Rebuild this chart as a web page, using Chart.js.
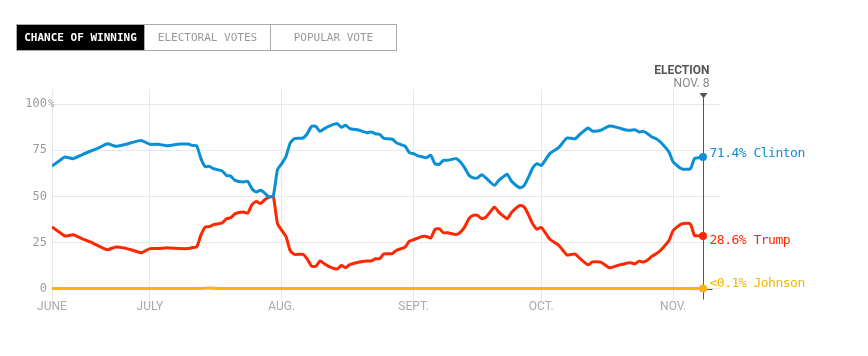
<!DOCTYPE html>
<html><head><meta charset="utf-8">
<script src="https://cdn.jsdelivr.net/npm/chart.js@4.4.0/dist/chart.umd.min.js"></script>
<style>
html,body{margin:0;padding:0;background:#fff;width:868px;height:356px;overflow:hidden}
#wrap{position:relative;width:868px;height:356px}
#c{position:absolute;left:0;top:0}
.tabs{position:absolute;left:16px;top:24px;height:27px;display:flex;box-sizing:border-box;border:1px solid #aaa;font-family:"DejaVu Sans Mono",monospace;font-size:11px}
.tab{box-sizing:border-box;display:flex;align-items:center;justify-content:center;color:#999;height:100%}
.tab.on{background:#000;color:#fff;font-weight:bold}
.tab+.tab{border-left:1px solid #aaa}
</style></head>
<body><div id="wrap">
<canvas id="c" width="868" height="356"></canvas>
<div class="tabs">
 <div class="tab on" style="width:127px">CHANCE OF WINNING</div>
 <div class="tab" style="width:126px">ELECTORAL VOTES</div>
 <div class="tab" style="width:126px">POPULAR VOTE</div>
</div>
</div>
<script>
// days since June 8, 2016
const days = [0,2,3,5,7,9,11,13,15,17,19,21,23,25,27,30,32,33,34,35,36,37,38,40,41,42,43,45,46,47,48,49,50,51,52,53,54,55,56,57,59,60,61,62,63,64,65,67,68,69,70,72,74,75,76,77,78,80,81,83,84,85,86,87,88,89,90,91,92,93,95,96,97,98,99,100,101,102,104,105,106,107,108,110,111,112,113,114,115,117,119,120,121,122,123,124,126,127,129,131,133,135,136,137,138,139,140,141,142,143,145,146,148,150,151,152,153];
const clinton = [66.5,69.8,71.4,70.5,72.6,74.5,76.3,78.6,77.2,78.1,79.3,80.4,78.3,78.3,77.5,78.4,78.4,77.7,77.5,70.5,66.2,66.3,65.0,63.8,61.4,61.0,58.7,57.8,58.2,54.2,52.4,53.3,51.8,49.6,50.3,64.5,67.8,71.7,79.0,81.3,81.7,84.0,88.0,88.0,85.3,86.8,88.0,89.5,87.5,88.6,86.8,86.0,84.6,85.0,84.0,83.7,81.5,81.0,79.0,77.2,73.7,73.2,72.0,71.5,71.0,72.3,67.8,67.4,69.6,69.6,70.5,68.7,65.5,61.5,60.1,60.1,61.8,60.0,56.0,58.7,60.5,62.0,58.3,54.7,56.0,60.5,65.5,67.8,66.8,73.2,76.3,79.0,81.7,81.5,81.3,83.5,87.1,85.5,85.9,88.2,87.3,86.0,85.9,86.2,85.0,85.3,84.0,82.2,81.3,79.5,74.1,68.7,65.0,65.0,70.5,71.0,71.4];
const trump = [33.4,30.2,28.5,29.2,27.1,25.3,23.1,21.1,22.6,22.0,20.8,19.5,21.7,21.7,22.2,21.7,21.7,22.3,22.6,29.0,33.4,33.6,34.7,35.6,37.9,38.4,40.6,41.5,41.0,45.5,47.3,46.2,48.2,49.6,50.0,35.2,31.6,28.2,20.5,18.6,18.6,16.0,12.2,12.1,15.0,13.5,12.1,10.6,12.5,11.4,13.0,14.3,15.0,15.0,16.2,16.2,18.8,19.0,20.8,22.6,25.8,26.5,27.4,28.3,28.3,27.4,32.0,32.5,30.3,30.3,29.4,30.7,33.5,38.0,39.7,39.7,37.9,38.8,44.2,41.5,39.5,37.9,41.3,45.1,44.2,40.0,35.0,32.2,33.2,26.8,23.7,21.0,18.3,18.5,18.7,16.5,12.9,14.5,14.4,11.3,12.6,13.8,14.0,13.5,14.9,14.4,15.5,17.6,18.9,20.7,26.1,31.5,35.1,35.1,28.8,28.7,28.6];
const johnsonDays = [0,35,37,39,153];
const johnson = [0.1,0.1,0.4,0.1,0.1];
const monthTicks = [0,23,54,85,115,146];
const monthLabels = ['JUNE','JULY','AUG.','SEPT.','OCT.','NOV.'];
const yTicks = [0,25,50,75,100];
const electionDay = 153;
const endLabels = ['71.4% Clinton','28.6% Trump','<0.1% Johnson'];

const BLUE='#0a8fd6', RED='#ff2700', YEL='#f5b800';
const pts=(xs,ys)=>xs.map((x,i)=>({x:x,y:ys[i]}));
const lastDot=(n)=>(c)=>c.dataIndex===n-1?4:0;

const annot={
 id:'annot',
 beforeDatasetsDraw(chart){
  const {ctx,scales:{x,y},chartArea:a}=chart;
  const ex=Math.round(x.getPixelForValue(electionDay))+0.5;
  ctx.save();
  ctx.strokeStyle='#555';ctx.lineWidth=1;
  ctx.beginPath();ctx.moveTo(ex,a.top+8);ctx.lineTo(ex,a.bottom);ctx.stroke();
  const y0=Math.round(y.getPixelForValue(0))+0.5;
  ctx.beginPath();ctx.moveTo(ex,y0);ctx.lineTo(ex+9,y0);ctx.stroke();
  ctx.fillStyle='#555';
  ctx.beginPath();ctx.moveTo(ex-4,a.top+3.5);ctx.lineTo(ex+4,a.top+3.5);ctx.lineTo(ex,a.top+9);ctx.closePath();ctx.fill();
  ctx.restore();
 },
 afterDraw(chart){
  const {ctx,scales:{x,y},chartArea:a}=chart;
  const ex=Math.round(x.getPixelForValue(electionDay))+0.5;
  ctx.save();
  // y labels
  ctx.font='12px "DejaVu Sans Mono"';ctx.fillStyle='#9a9a9a';ctx.textBaseline='middle';
  yTicks.forEach(v=>{
   const py=y.getPixelForValue(v);
   ctx.textAlign='right';ctx.fillText(String(v),a.left-5,py);
   if(v===100){ctx.textAlign='left';ctx.font='11px "DejaVu Sans Mono"';ctx.fillText('%',a.left-4,py);ctx.font='12px "DejaVu Sans Mono"';}
  });
  // x labels
  ctx.font='12px Roboto';ctx.fillStyle='#aaa';ctx.textAlign='center';ctx.textBaseline='alphabetic';
  monthTicks.forEach((d,i)=>ctx.fillText(monthLabels[i],x.getPixelForValue(d),a.bottom+10.5));
  // election header
  ctx.textAlign='right';
  ctx.font='bold 12px Roboto';ctx.fillStyle='#555';ctx.fillText('ELECTION',ex+6,74);
  ctx.font='12px Roboto';ctx.fillStyle='#888';ctx.fillText('NOV. 8',ex+6,86.5);
  // end labels
  ctx.textAlign='left';ctx.textBaseline='middle';
  ctx.font='13px "DejaVu Sans Mono"';
  try{ctx.letterSpacing='-0.5px';}catch(e){}
  const ends=[[clinton[clinton.length-1],BLUE,-3],[trump[trump.length-1],RED,5],[johnson[johnson.length-1],YEL,-5]];
  ends.forEach((e,i)=>{ctx.fillStyle=e[1];ctx.fillText(endLabels[i],ex+6,y.getPixelForValue(e[0])+e[2]);});
  ctx.restore();
 }
};

new Chart(document.getElementById('c'),{
 type:'line',
 data:{datasets:[
  {label:'Clinton',data:pts(days,clinton),borderColor:BLUE,backgroundColor:BLUE,borderWidth:3,pointRadius:lastDot(days.length),pointBorderWidth:0,tension:0.2},
  {label:'Trump',data:pts(days,trump),borderColor:RED,backgroundColor:RED,borderWidth:3,pointRadius:lastDot(days.length),pointBorderWidth:0,tension:0.2},
  {label:'Johnson',data:pts(johnsonDays,johnson),borderColor:YEL,backgroundColor:YEL,borderWidth:3,pointRadius:lastDot(johnsonDays.length),pointBorderWidth:0,tension:0.2}
 ]},
 options:{
  responsive:false,animation:false,devicePixelRatio:1,
  layout:{padding:{left:52,right:148,top:89.5,bottom:56.5}},
  plugins:{legend:{display:false},tooltip:{enabled:false}},
  scales:{
   x:{type:'linear',min:0,max:157,afterBuildTicks:s=>{s.ticks=monthTicks.map(v=>({value:v}));},ticks:{display:false},grid:{color:'#e8e8e8',drawTicks:false},border:{display:false}},
   y:{type:'linear',min:-5.9,max:108,afterBuildTicks:s=>{s.ticks=yTicks.map(v=>({value:v}));},ticks:{display:false},grid:{color:'#e8e8e8',drawTicks:false},border:{display:false}}
  }
 },
 plugins:[annot]
});
</script>
</body></html>
